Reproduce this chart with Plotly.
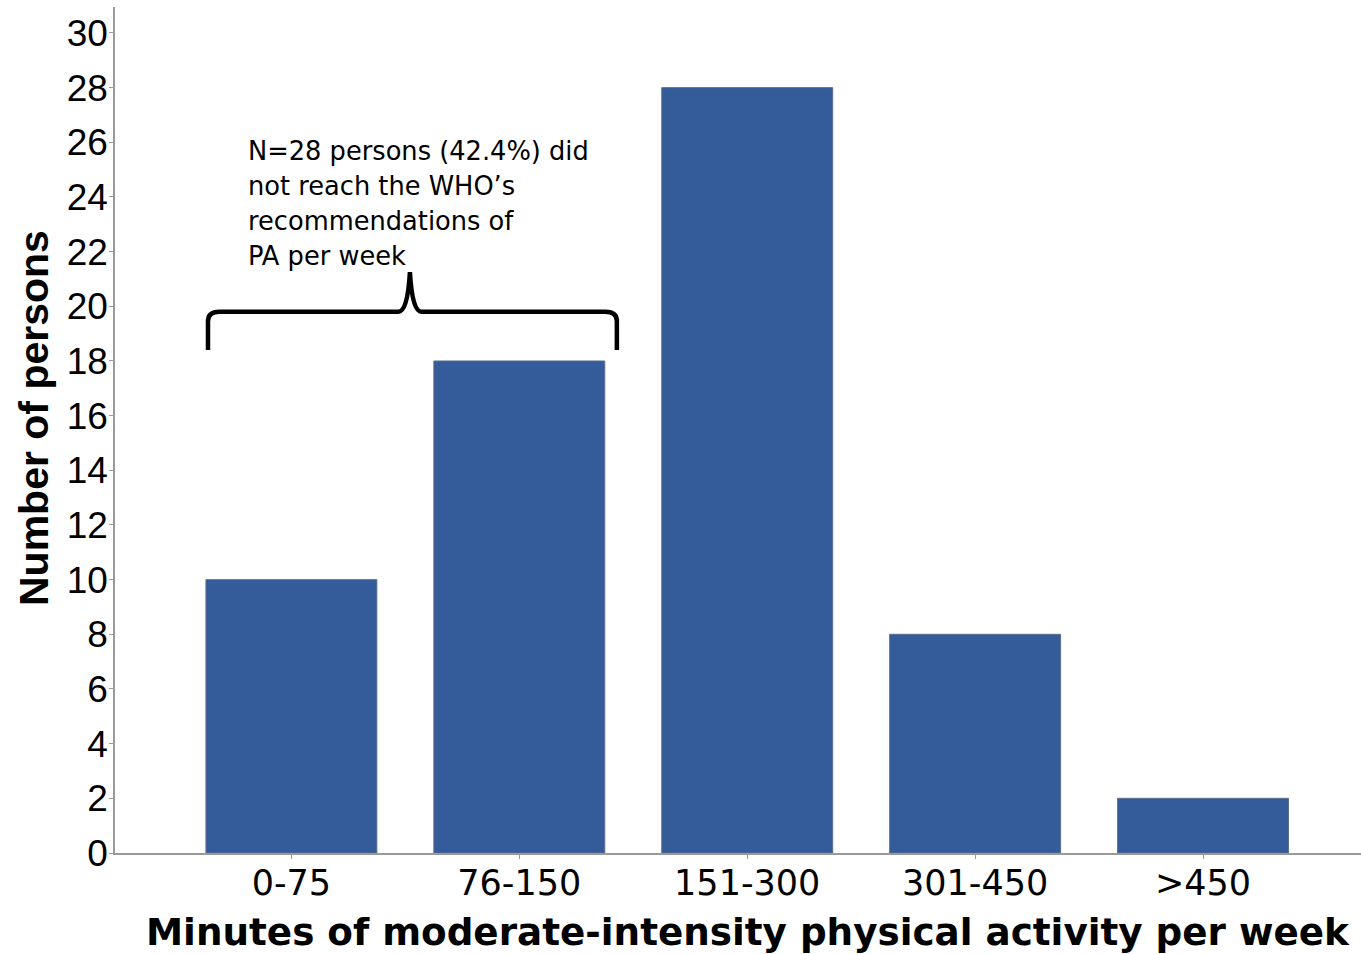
import plotly.graph_objects as go

categories = ["0-75", "76-150", "151-300", "301-450", ">450"]
counts = [10, 18, 28, 8, 2]
y_ticks = list(range(0, 31, 2))
note_lines = ["N=28 persons (42.4%) did", "not reach the WHO’s", "recommendations of", "PA per week"]
x_title = "Minutes of moderate-intensity physical activity per week"
y_title = "Number of persons"

ARIAL = "Liberation Sans, Arial, sans-serif"
WIDE = "DejaVu Sans, Liberation Sans, sans-serif"

W, H = 1361, 954
ML, MR, MT, MB = 115, 0, 7, 101
PW, PH = W - ML - MR, H - MT - MB

fig = go.Figure()
fig.add_trace(go.Bar(
    x=list(range(len(categories))), y=counts, width=0.75,
    marker=dict(color="#345b9a", line=dict(color="#5a6f8c", width=1)),
    hoverinfo="skip",
))

# curly brace (data coordinates)
xl, xr, xm = -0.366, 1.428, 0.52
yb, yt, yp = 18.4, 19.8, 21.25
path = (f"M {xl},{yb} L {xl},{yt-0.35} Q {xl},{yt} {xl+0.05},{yt} "
        f"L {xm-0.05},{yt} Q {xm-0.01},{yt} {xm},{yp} "
        f"Q {xm+0.01},{yt} {xm+0.05},{yt} L {xr-0.05},{yt} "
        f"Q {xr},{yt} {xr},{yt-0.35} L {xr},{yb}")
fig.add_shape(type="path", path=path, xref="x", yref="y",
              line=dict(color="black", width=4.5))

# annotation text, one line each (35 px line pitch)
for i, line in enumerate(note_lines):
    fig.add_annotation(x=-0.2, xref="x", xanchor="left",
                       y=1 - (151 - MT + 35 * i) / PH, yref="paper", yanchor="middle",
                       text=line, showarrow=False, align="left",
                       font=dict(family=WIDE, size=25.7, color="black"))

# axis titles
fig.add_annotation(x=(748 - ML) / PW, xref="paper", xanchor="center",
                   y=-(932 - (H - MB)) / PH, yref="paper", yanchor="middle",
                   text=f"<b>{x_title}</b>", showarrow=False,
                   font=dict(family=WIDE, size=37.3, color="black"))
fig.add_annotation(x=(33.5 - ML) / PW, xref="paper", xanchor="center",
                   y=1 - (418.5 - MT) / PH, yref="paper", yanchor="middle",
                   text=f"<b>{y_title}</b>", showarrow=False, textangle=-90,
                   font=dict(family=ARIAL, size=41, color="black"))

fig.update_layout(
    width=W, height=H,
    margin=dict(l=ML, r=MR, t=MT, b=MB, autoexpand=False),
    plot_bgcolor="white", paper_bgcolor="white",
    showlegend=False,
    font=dict(family=ARIAL, color="black"),
    xaxis=dict(
        range=[-0.774, 4.693], tickmode="array", automargin=False,
        tickvals=list(range(len(categories))), ticktext=categories,
        showgrid=False, zeroline=False, showline=True, linecolor="#9a9a9a", linewidth=1.5,
        ticks="outside", ticklen=4, tickcolor="#9a9a9a", ticklabelstandoff=-6,
        tickfont=dict(size=35, family=WIDE),
    ),
    yaxis=dict(
        range=[0, 30.95], tickmode="array", tickvals=y_ticks, automargin=False,
        showgrid=False, zeroline=False, showline=True, linecolor="#9a9a9a", linewidth=1.5,
        ticks="outside", ticklen=4, tickcolor="#9a9a9a", ticklabelstandoff=-6,
        tickfont=dict(size=37, family=ARIAL),
    ),
)

fig.write_html("out.html", config={"displayModeBar": False},
               post_script="document.body.style.margin='0';document.body.style.overflow='hidden';")
